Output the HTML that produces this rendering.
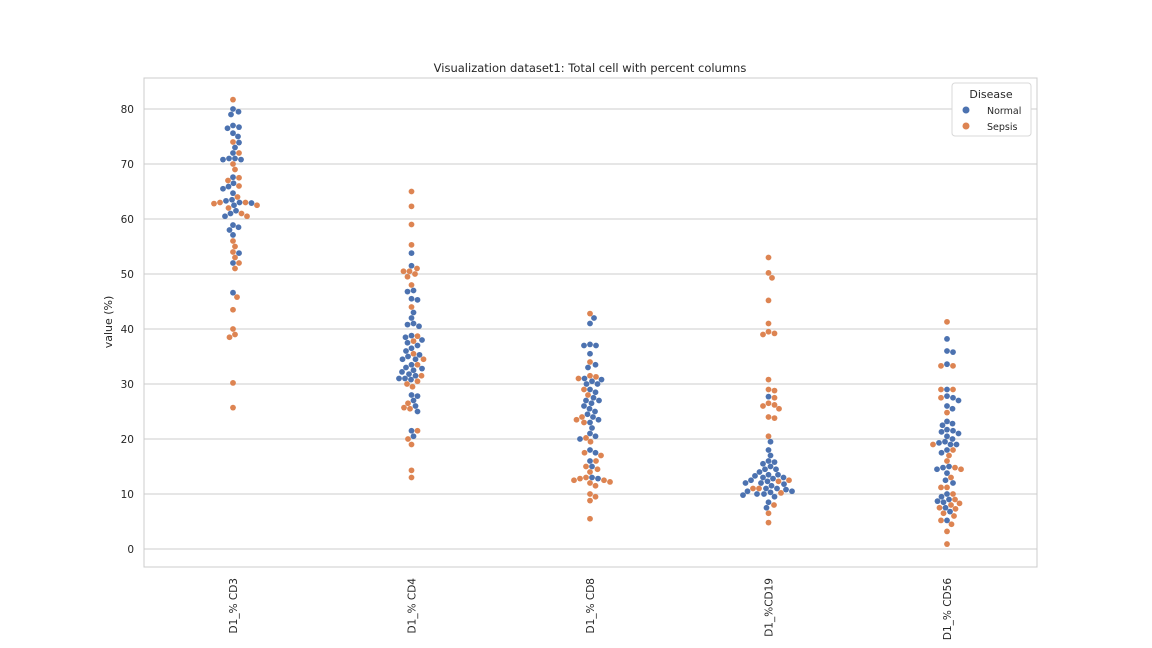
<!DOCTYPE html>
<html><head><meta charset="utf-8">
<style>
body{margin:0;background:#fff;}
svg{display:block;font-family:"DejaVu Sans","Liberation Sans",sans-serif;}
</style></head>
<body>
<svg id="chart" width="1152" height="648" viewBox="0 0 1152 648">
<text x="590" y="72" text-anchor="middle" font-size="11.5" fill="#262626">Visualization dataset1: Total cell with percent columns</text>
<rect x="144" y="78" width="893" height="489" fill="none" stroke="#cccccc"/>
<g id="grid"></g>
<g id="pts"></g>
<text transform="translate(112,322) rotate(-90)" text-anchor="middle" font-size="11" fill="#262626">value (%)</text>
<text x="590" y="656" text-anchor="middle" font-size="11" fill="#262626">feature</text>
<g>
<rect x="952" y="83" width="79" height="53" rx="3" fill="#fff" stroke="#d8d8d8"/>
<text x="991" y="98" text-anchor="middle" font-size="11" fill="#262626">Disease</text>
<circle cx="966" cy="110" r="3.5" fill="#4c72b0"/>
<text x="987" y="114" font-size="9.5" fill="#262626">Normal</text>
<circle cx="966" cy="126" r="3.5" fill="#dd8452"/>
<text x="987" y="130" font-size="9.5" fill="#262626">Sepsis</text>
</g>
</svg>
<script>
const categories=["D1_% CD3","D1_% CD4","D1_% CD8","D1_%CD19","D1_% CD56"];
const yTicks=[0,10,20,30,40,50,60,70,80];
const normalValues=[
[80,79.5,79,77,76.7,76.5,75.6,75,73.9,73,72,71,71,70.8,70.8,67.6,66.5,65.9,65.5,64.7,63.5,63.3,63,62.9,62.5,61.5,61,60.5,58.9,58.5,58,57.1,53.8,52,46.6],
[53.8,51.5,47,46.8,45.5,45.3,43,42,40.8,40.5,41,38.8,38.5,38,37.5,37,36.5,36,35.3,35,34.5,34.5,33.5,33,32.8,32.5,32.2,31.8,31.5,31,31,30.8,28,27.8,27,26,25,21.5,20.5],
[42,41,37,37,37.2,35.5,33.5,33,31,30.8,30.5,30,30,29,28.5,27.5,27,27,26.5,26,25.5,25,24.5,24,23.5,23,22,21,20.5,20,18,17.5,16,15,13,12.8],
[27.7,19.5,18,17,16,15.8,15.5,15,14.5,14.5,14,13.5,13.5,13.3,13,13,12.8,12.5,12.3,12,12,11.8,11.5,11,11,10.8,10.5,10.5,10.3,10,10,9.8,9.5,8.5,7.5],
[38.2,36,35.8,33.6,29,27.8,27.5,27,26,25.5,23.2,22.8,22.5,21.7,21.5,21.3,21,20.5,20,19.5,19.3,19,19,18,17.5,15,14.8,14.5,13.8,12.5,12,10,9.5,9,8.7,8.5,7.5,6.8,5.2]
];
const sepsisValues=[
[81.7,74,72,70,69,67.5,67,66,64,63,63,62.8,62.5,62,61,60.5,56,55,54,53,52,51,45.8,43.5,40,39,38.5,30.2,25.7],
[65,62.3,59,55.3,51,50.5,50.5,50,49.5,48,44,38.7,37.8,35.5,34.5,33.5,31.5,30.5,30,29.5,26.5,25.7,25.5,21.5,20,19,14.3,13],
[42.8,34,31.5,31.3,31,29,28,24,23.5,23,20.2,19.5,17.5,17,16,15,14.5,14,13,12.8,12.5,12.5,12.2,12,11.5,10,9.5,8.8,5.5],
[53,50.2,49.3,45.2,41,39.5,39,39.2,30.8,29,28.8,27.5,26.5,26.2,26,25.5,24,23.8,20.5,12.5,12.3,11,11,10.2,8,6.5,4.8],
[41.3,33.3,33.3,29,29,27.5,24.8,19,18,17,16,14.8,14.5,13,11.2,11.2,10,9,8.3,8,7.5,7.3,6.5,6,5.2,4.5,3.2,0.9]
];
const NS="http://www.w3.org/2000/svg";
const svg=document.getElementById('chart');
const grid=document.getElementById('grid');
const pts=document.getElementById('pts');
function yScale(v){return 549-v*5.5;}
function xScale(i){return 233+i*178.5;}
yTicks.forEach(t=>{
  const l=document.createElementNS(NS,'line');
  l.setAttribute('x1',144);l.setAttribute('x2',1037);
  l.setAttribute('y1',yScale(t));l.setAttribute('y2',yScale(t));
  l.setAttribute('stroke','#cccccc');
  
  
  grid.appendChild(l);
  const tx=document.createElementNS(NS,'text');
  tx.setAttribute('x',134);tx.setAttribute('y',yScale(t)+4);
  tx.setAttribute('text-anchor','end');tx.setAttribute('font-size','10.5');tx.setAttribute('fill','#262626');
  tx.textContent=t;
  
  
  svg.appendChild(tx);
});
categories.forEach((c,i)=>{
  const tx=document.createElementNS(NS,'text');
  const x=xScale(i)+4, y=578;
  tx.setAttribute('transform','translate('+x+','+y+') rotate(-90)');
  tx.setAttribute('text-anchor','end');tx.setAttribute('font-size','10.5');tx.setAttribute('fill','#262626');
  tx.textContent=c;
  
  
  svg.appendChild(tx);
  const all=[];
  normalValues[i].forEach(v=>all.push({v:v,c:'#4c72b0',n:'normal'}));
  sepsisValues[i].forEach(v=>all.push({v:v,c:'#dd8452',n:'sepsis'}));
  all.sort((a,b)=>b.v-a.v);
  const placed=[];const D=5.8;
  all.forEach(p=>{
    const y=yScale(p.v);const cx=xScale(i);
    let off=0;
    for(let k=0;k<400;k++){
      const o=(k%2?1:-1)*Math.ceil(k/2)*0.5;
      const x=cx+o;
      if(placed.every(q=>(q.x-x)*(q.x-x)+(q.y-y)*(q.y-y)>=D*D)){off=o;break;}
    }
    placed.push({x:cx+off,y:y});
    const ci=document.createElementNS(NS,'circle');
    ci.setAttribute('cx',cx+off);ci.setAttribute('cy',y);ci.setAttribute('r',2.9);
    ci.setAttribute('fill',p.c);
    
    
    pts.appendChild(ci);
  });
});
</script>
</body></html>
